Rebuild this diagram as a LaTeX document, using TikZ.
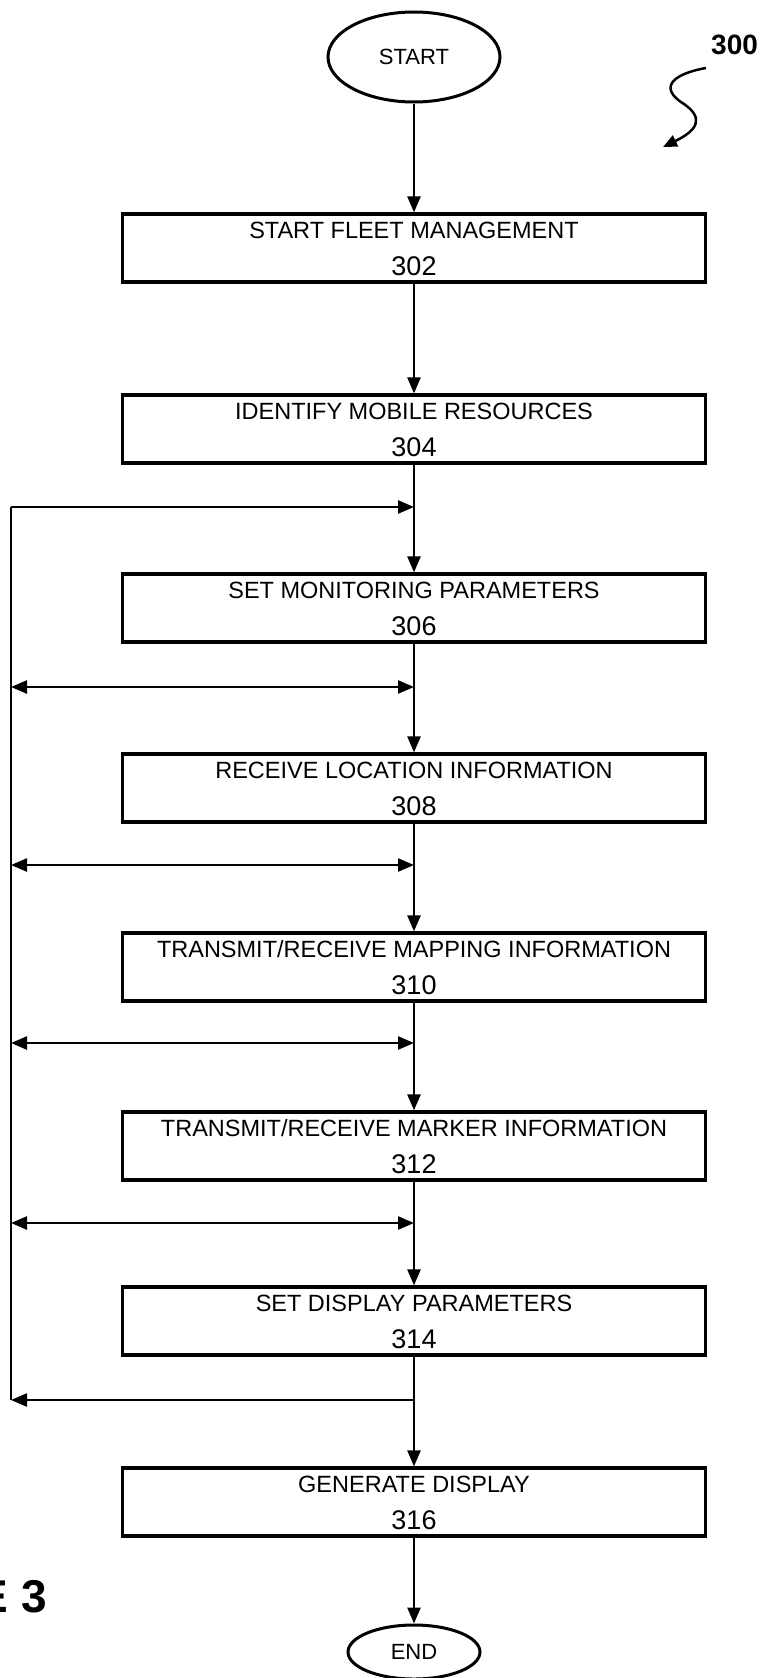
\documentclass[tikz,border=0pt]{standalone}
\usepackage{fontspec}
\setmainfont{Liberation Sans}
\usetikzlibrary{arrows.meta,shapes.geometric,calc}
\begin{document}
\begin{tikzpicture}[x=1pt,y=-1pt,
  stepbox/.style={draw, line width=3.2pt, minimum width=583pt, minimum height=68pt, inner sep=0pt},
  term/.style={draw, ellipse, line width=3pt, inner sep=0pt, font=\fontsize{22}{24}\selectfont},
  lab/.style={inner sep=0pt, anchor=base, font=\fontsize{23.5}{26}\selectfont},
  num/.style={inner sep=0pt, anchor=base, font=\fontsize{27}{30}\selectfont},
  conn/.style={line width=2.5pt},
  arr/.style={line width=2.5pt, -{Triangle[length=16pt,width=13pt]}},
  darr/.style={line width=2.5pt, {Triangle[length=16pt,width=13pt]}-{Triangle[length=16pt,width=13pt]}}]
\useasboundingbox (0,0) rectangle (766,1678);

% terminals
\node[term, minimum width=172pt, minimum height=90pt] (start) at (414,57) {START};
\node[term, minimum width=132pt, minimum height=54pt] (end) at (414,1652) {END};

% process boxes
\foreach \id/\top/\txt in {302/214/{START FLEET MANAGEMENT},
                           304/395/{IDENTIFY MOBILE RESOURCES},
                           306/574/{SET MONITORING PARAMETERS},
                           308/754/{RECEIVE LOCATION INFORMATION},
                           310/933/{TRANSMIT/RECEIVE MAPPING INFORMATION},
                           312/1112/{TRANSMIT/RECEIVE MARKER INFORMATION},
                           314/1287/{SET DISPLAY PARAMETERS},
                           316/1468/{GENERATE DISPLAY}}{
  \node[stepbox] (b\id) at (414,\top+34) {};
  \node[lab] (t\id) at ($(b\id.north)+(0,26)$) {\txt};
  \node[num] (n\id) at ($(b\id.north)+(0,63)$) {\id};
}

% junctions on the main line and on the loop line
\coordinate (j1) at (414,507);  \coordinate (l1) at (11,507);
\coordinate (j2) at (414,687);  \coordinate (l2) at (11,687);
\coordinate (j3) at (414,865);  \coordinate (l3) at (11,865);
\coordinate (j4) at (414,1043); \coordinate (l4) at (11,1043);
\coordinate (j5) at (414,1223); \coordinate (l5) at (11,1223);
\coordinate (j6) at (414,1400); \coordinate (l6) at (11,1400);

% main flow
\draw[arr] (start) -- (b302);
\draw[arr] (b302) -- (b304);
\draw[arr] (b304) -- (b306);
\draw[arr] (b306) -- (b308);
\draw[arr] (b308) -- (b310);
\draw[arr] (b310) -- (b312);
\draw[arr] (b312) -- (b314);
\draw[arr] (b314) -- (b316);
\draw[arr] (b316) -- (end);

% loop
\draw[conn] (l1) -- (l6);
\draw[arr] (l1) -- (j1);
\draw[darr] (l2) -- (j2);
\draw[darr] (l3) -- (j3);
\draw[darr] (l4) -- (j4);
\draw[darr] (l5) -- (j5);
\draw[arr] (j6) -- (l6);

% reference numeral
\node[font=\bfseries\fontsize{28}{30}\selectfont, inner sep=0pt, anchor=base west] (ref) at (711,55) {300};
\coordinate (sq0) at (706,68);
\coordinate (sq1) at (684,104);
\coordinate (sq2) at (663,147);
\draw[line width=2.5pt, -{Triangle[length=14pt,width=12pt]}] (sq0) .. controls (672,74) and (658,88) .. (sq1) .. controls (704,118) and (698,130) .. (sq2);

% figure label (cut by the page edge, as in the reference)
\node[font=\bfseries\fontsize{46}{48}\selectfont, inner sep=0pt, anchor=base east] (fig) at (47,1612) {E 3};
\end{tikzpicture}
\end{document}
